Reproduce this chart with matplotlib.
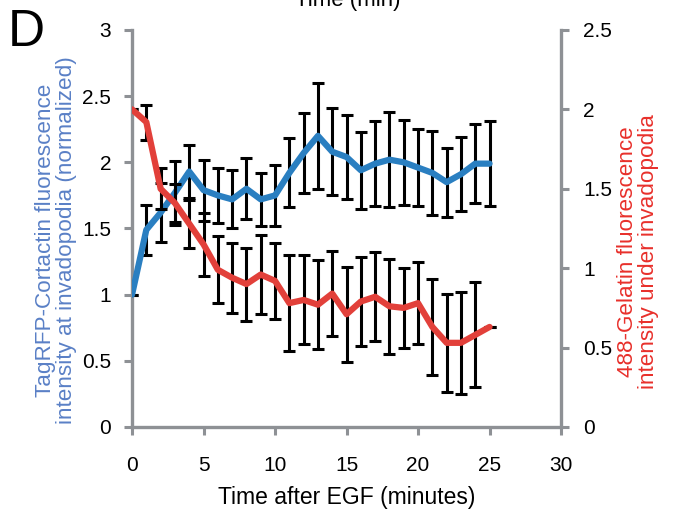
import numpy as np
from matplotlib import pyplot as plt

plt.rcParams["font.family"] = ["Liberation Sans", "DejaVu Sans"]

# minutes after EGF
t = np.arange(0, 26)

# TagRFP-Cortactin (left axis) mean and error
cortactin = [1.0, 1.49, 1.62, 1.77, 1.93, 1.79, 1.75, 1.72, 1.8, 1.72, 1.75, 1.92, 2.07,
             2.2, 2.08, 2.04, 1.94, 1.99, 2.02, 2.0, 1.96, 1.92, 1.85, 1.91, 1.99, 1.99]
cortactin_err = [0, 0.19, 0.22, 0.24, 0.2, 0.23, 0.21, 0.22, 0.23, 0.2, 0.23, 0.26, 0.3,
                 0.4, 0.33, 0.32, 0.29, 0.32, 0.36, 0.32, 0.29, 0.32, 0.26, 0.28, 0.3, 0.32]

# 488-Gelatin (right axis) mean and error
gelatin = [2.0, 1.92, 1.5, 1.41, 1.28, 1.15, 0.99, 0.94, 0.9, 0.96, 0.92, 0.78, 0.8,
           0.77, 0.84, 0.71, 0.79, 0.82, 0.76, 0.75, 0.78, 0.63, 0.53, 0.53, 0.58, 0.63]
gelatin_err = [0, 0.11, 0.13, 0.12, 0.15, 0.2, 0.21, 0.22, 0.23, 0.25, 0.24, 0.3, 0.28,
               0.28, 0.27, 0.3, 0.28, 0.28, 0.3, 0.25, 0.26, 0.3, 0.31, 0.32, 0.33, 0]

left_ticks = [0, 0.5, 1, 1.5, 2, 2.5, 3]
right_ticks = [0, 0.5, 1, 1.5, 2, 2.5]
x_ticks = [0, 5, 10, 15, 20, 25, 30]

blue = "#2a7fc1"
red = "#e2403a"
grey = "#8e9195"

fig = plt.figure(figsize=(6.75, 5.16), dpi=100)
ax = fig.add_axes([0.1956, 0.1725, 0.6356, 0.7694])
ax2 = ax.twinx()

ax.errorbar(t, cortactin, yerr=cortactin_err, fmt="none", ecolor="black",
            elinewidth=2.2, capsize=4.5, capthick=2.2, zorder=2)
ax.plot(t, cortactin, color=blue, lw=4.5, solid_joinstyle="round",
        solid_capstyle="round", zorder=3)

ax2.errorbar(t, gelatin, yerr=gelatin_err, fmt="none", ecolor="black",
             elinewidth=2.2, capsize=4.5, capthick=2.2, zorder=2)
ax2.plot(t, gelatin, color=red, lw=4.5, solid_joinstyle="round",
         solid_capstyle="round", zorder=3)

ax.set_xlim(0, 30)
ax.set_ylim(0, 3)
ax2.set_ylim(0, 2.5)
ax.set_xticks(x_ticks)
ax.set_yticks(left_ticks)
ax.set_yticklabels([f"{v:g}" for v in left_ticks])
ax2.set_yticks(right_ticks)
ax2.set_yticklabels([f"{v:g}" for v in right_ticks])

for a in (ax, ax2):
    a.spines["top"].set_visible(False)
    for s in ("left", "right", "bottom"):
        a.spines[s].set_color(grey)
        a.spines[s].set_linewidth(2.4)
    a.tick_params(color=grey, width=2.2, length=6, labelsize=15, direction="out")
ax.spines["right"].set_visible(False)
ax2.spines["left"].set_visible(False)
ax2.spines["bottom"].set_visible(False)
ax.tick_params(axis="y", pad=9)
ax.tick_params(axis="x", pad=15)
ax2.tick_params(axis="y", pad=10)

ax.set_xlabel("Time after EGF (minutes)", fontsize=16.5, labelpad=8)

fig.text(56 / 675, 1 - 240 / 516, "TagRFP-Cortactin fluorescence\nintensity at invadopodia (normalized)",
         rotation=90, ha="center", va="center", color="#5a80c6", fontsize=16.2, linespacing=1.05)
fig.text(638 / 675, 1 - 252 / 516, "488-Gelatin fluorescence\nintensity under invadopodia",
         rotation=90, ha="center", va="center", color="#e8302b", fontsize=16.2, linespacing=1.05)

fig.text(8 / 675, 1 - 8 / 516, "D", fontsize=37, va="top", ha="left")
fig.text(348 / 675, 1 - 6 / 516, "Time (min)", fontsize=16, va="baseline", ha="center")

plt.savefig("out.png", dpi=100)
plt.close()
